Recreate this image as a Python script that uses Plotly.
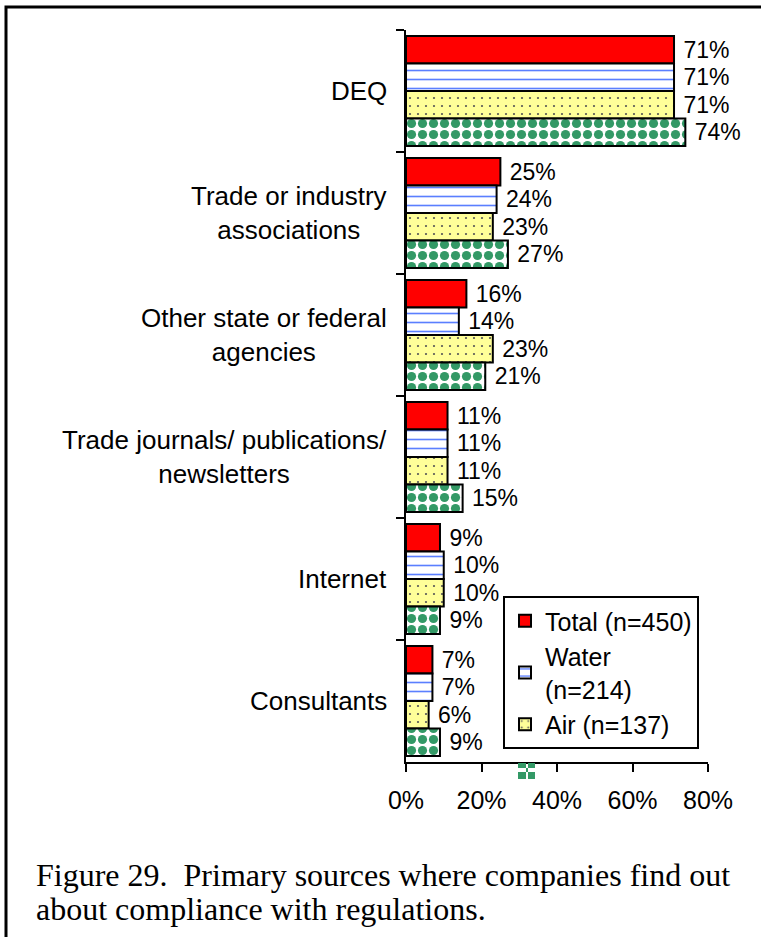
import plotly.graph_objects as go

# ---------------- data ----------------
categories = [
    "DEQ",
    "Trade or industry<br>associations",
    "Other state or federal<br>agencies",
    "Trade journals/ publications/<br>newsletters",
    "Internet",
    "Consultants",
]
series_names = ["Total (n=450)", "Water<br>(n=214)", "Air (n=137)", "Series 4"]
total_vals = [71, 25, 16, 11, 9, 7]
water_vals = [71, 24, 14, 11, 10, 7]
air_vals = [71, 23, 23, 11, 10, 6]
series4_vals = [74, 27, 21, 15, 9, 9]
x_ticks = [0, 20, 40, 60, 80]
x_tick_labels = ["0%", "20%", "40%", "60%", "80%"]
caption_lines = [
    "Figure 29.\u00a0 Primary sources where companies find out",
    "about compliance with regulations.",
]

# ---------------- geometry helpers (pixel -> paper) ----------------
W, H = 761, 937
L, R, T, B = 406, 53, 30, 175
PW, PH = W - L - R, H - T - B


def px(xp):
    return (xp - L) / PW


def py(yp):
    return (H - B - yp) / PH


SANS = "Liberation Sans, Arial, sans-serif"
SERIF = "Liberation Serif, Times New Roman, serif"

styles = [
    dict(color="#FF0000"),
    dict(color="white", pattern=dict(shape="-", fgcolor="#5B7FFF", bgcolor="white",
                                     size=9, solidity=0.18, fillmode="replace")),
    dict(color="#FFFF99", pattern=dict(shape=".", fgcolor="#555555", bgcolor="#FFFF99",
                                       size=8, solidity=0.06, fillmode="replace")),
    dict(color="white", pattern=dict(shape=".", fgcolor="#339966", bgcolor="white",
                                     size=11, solidity=0.55, fillmode="replace")),
]

fig = go.Figure()
for i, (name, vals) in enumerate(zip(series_names,
                                     [total_vals, water_vals, air_vals, series4_vals])):
    fig.add_trace(go.Bar(
        y=categories, x=vals, name=name, orientation="h",
        marker=dict(**styles[i], line=dict(color="black", width=2)),
        text=[f"\u00a0{v}%" for v in vals],
        textposition="outside",
        textfont=dict(family=SANS, size=23, color="black"),
        constraintext="none",
        cliponaxis=False,
        showlegend=(i < 3),
    ))

# category labels (centred multi-line, right-aligned block)
annotations = []
for c in categories:
    annotations.append(dict(
        x=px(389), xref="paper", y=c, yref="y",
        text=c, showarrow=False, xanchor="right", yanchor="middle",
        align="center", font=dict(family=SANS, size=26, color="black"),
    ))

# caption
for j, (line, yb) in enumerate(zip(caption_lines, [875, 909])):
    annotations.append(dict(
        x=px(34), xref="paper", y=py(yb), yref="paper",
        text=line, showarrow=False, xanchor="left", yanchor="middle",
        align="left", font=dict(family=SERIF, size=32, color="black"),
    ))

shapes = [
    # outer frame
    dict(type="rect", xref="paper", yref="paper",
         x0=px(6), x1=px(775), y0=py(950), y1=py(7),
         line=dict(color="black", width=3), fillcolor="rgba(0,0,0,0)", layer="above"),
]
# clipped legend symbol of the fourth series peeking below the axis
for (a, b, c, d) in [(518, 763, 526, 768), (528, 763, 535, 768),
                     (526, 768, 528, 772), (518, 772, 526, 779), (528, 772, 535, 779)]:
    shapes.append(dict(type="rect", xref="paper", yref="paper",
                       x0=px(a), x1=px(c), y0=py(d), y1=py(b),
                       line=dict(width=0), fillcolor="#339966"))

fig.update_layout(
    width=W, height=H,
    margin=dict(l=L, r=R, t=T, b=B, autoexpand=False),
    paper_bgcolor="white", plot_bgcolor="white",
    barmode="group", bargap=0.1, bargroupgap=0,
    font=dict(family=SANS, color="black"),
    xaxis=dict(range=[0, 80], tickmode="array", tickvals=x_ticks, ticktext=x_tick_labels,
               showgrid=False, zeroline=False, showline=True,
               linecolor="black", linewidth=2,
               ticks="outside", ticklen=8, tickwidth=2, tickcolor="black",
               tickfont=dict(family=SANS, size=25, color="black"),
               ticklabelstandoff=7, fixedrange=True),
    yaxis=dict(autorange="reversed", showticklabels=False, showgrid=False,
               zeroline=False, showline=True, linecolor="black", linewidth=2,
               ticks="outside", ticklen=8, tickwidth=2, tickcolor="black",
               tickson="boundaries", fixedrange=True),
    legend=dict(x=px(503), y=py(596), xanchor="left", yanchor="top",
                bgcolor="white", bordercolor="black", borderwidth=2,
                font=dict(family=SANS, size=25, color="black"),
                traceorder="normal", tracegroupgap=0, itemwidth=30),
    annotations=annotations,
    shapes=shapes,
)

fig.write_html("out.html", config={"displayModeBar": False},
               post_script="document.body.style.margin='0';document.body.style.padding='0';")
